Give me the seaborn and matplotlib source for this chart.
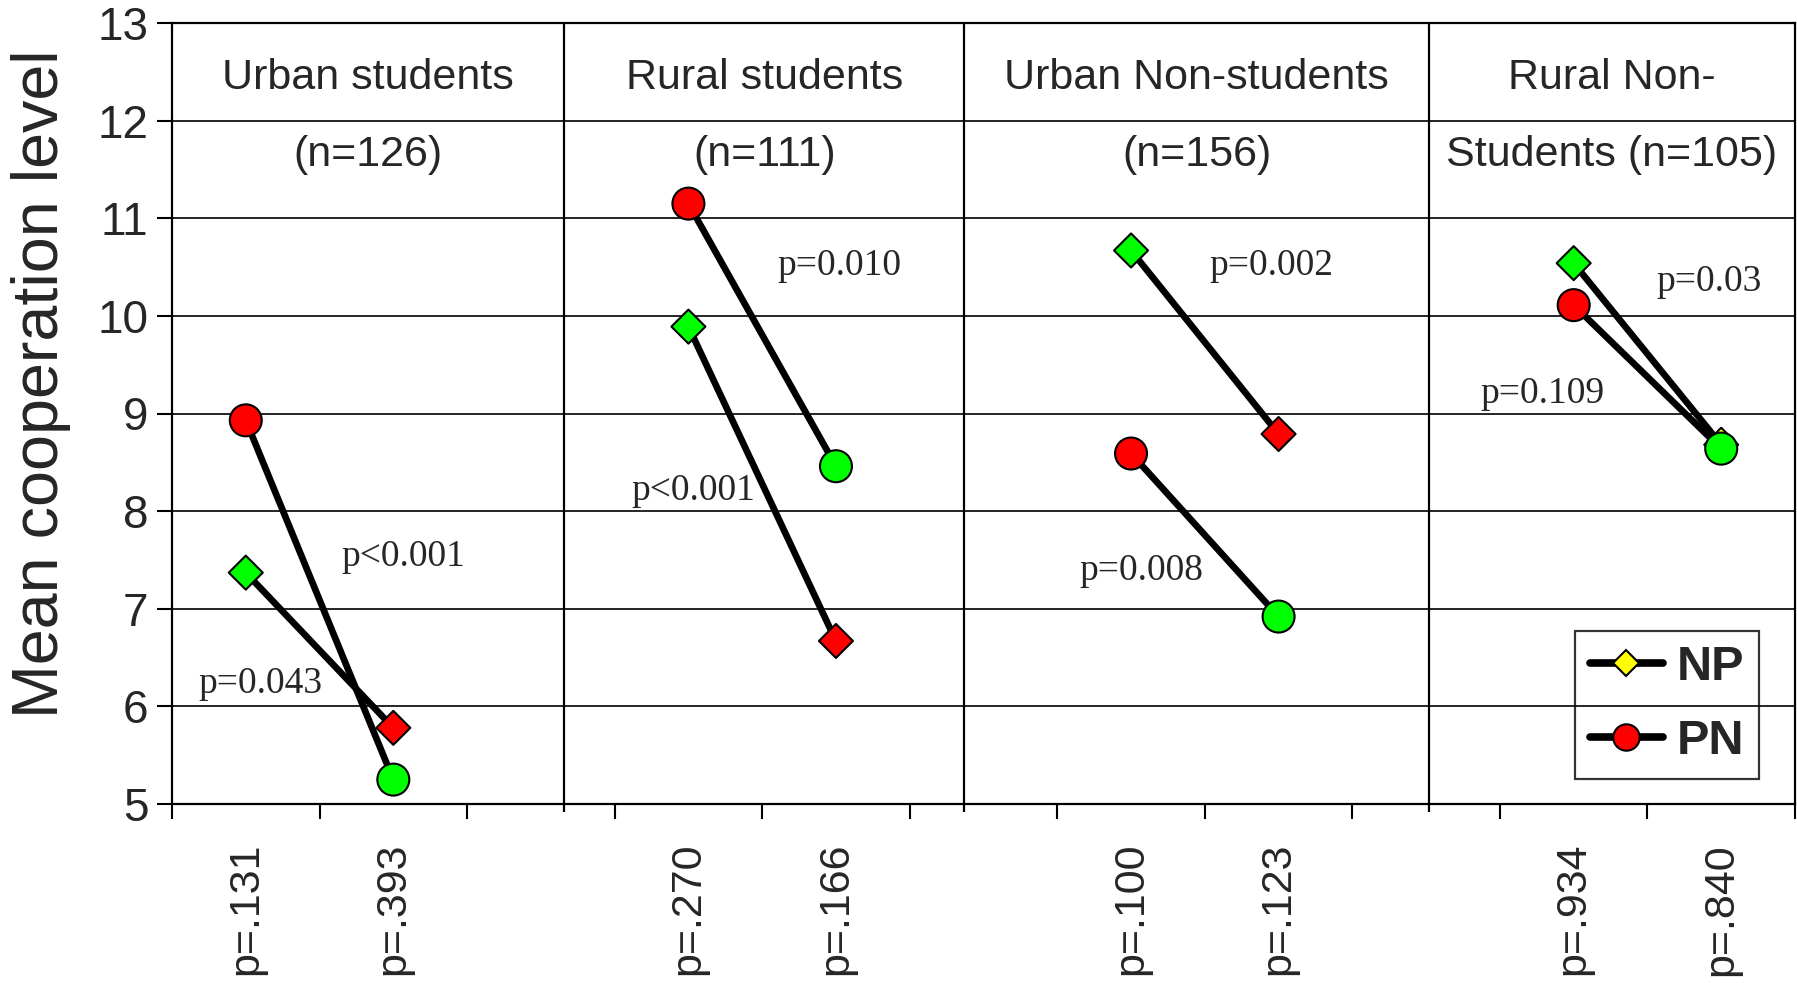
import numpy as np
import pandas as pd
import matplotlib
matplotlib.use("Agg")
import matplotlib.pyplot as plt
from matplotlib.lines import Line2D
import seaborn as sns

# ---------------- data ----------------
categories = ["p=.131", "p=.393", "", "p=.270", "p=.166", "", "p=.100", "p=.123", "", "p=.934", "p=.840"]
groups = ["Urban students", "Rural students", "Urban Non-students", "Rural Non-"]
group_n = ["(n=126)", "(n=111)", "(n=156)", "Students (n=105)"]

np_first = [7.37, 9.89, 10.67, 10.54]
np_second = [5.78, 6.67, 8.79, 8.68]
pn_first = [8.93, 11.15, 8.59, 10.11]
pn_second = [5.25, 8.46, 6.92, 8.64]

np_first_fill = ["green", "green", "green", "green"]
np_second_fill = ["red", "red", "red", "yellow"]
pn_first_fill = ["red", "red", "red", "red"]
pn_second_fill = ["green", "green", "green", "green"]

p_labels = ["p<0.001", "p=0.043", "p=0.010", "p<0.001", "p=0.002", "p=0.008", "p=0.03", "p=0.109"]

# ---------------- layout (positions only) ----------------
p_label_pos = [(1.07, 7.53), (0.10, 6.23), (4.02, 10.51), (3.03, 8.21),
               (6.95, 10.51), (6.07, 7.39), (9.92, 10.35), (8.79, 9.20)]
separators = [2.16, 4.87, 8.02]

palette = {"green": "#00FF00", "red": "#FF0000", "yellow": "#FFFF00"}

rows = []
for g in range(len(groups)):
    x0, x1 = 3 * g, 3 * g + 1
    rows.append(dict(series="NP", unit=f"NP{g}", x=x0, y=np_first[g], fill=np_first_fill[g]))
    rows.append(dict(series="NP", unit=f"NP{g}", x=x1, y=np_second[g], fill=np_second_fill[g]))
    rows.append(dict(series="PN", unit=f"PN{g}", x=x0, y=pn_first[g], fill=pn_first_fill[g]))
    rows.append(dict(series="PN", unit=f"PN{g}", x=x1, y=pn_second[g], fill=pn_second_fill[g]))
df = pd.DataFrame(rows)

sns.set_style("ticks")
plt.rcParams["font.family"] = ["Liberation Sans", "DejaVu Sans"]

fig = plt.figure(figsize=(17.97, 9.83), dpi=100)
ax = fig.add_axes([172 / 1797, 1 - 804 / 983, (1795 - 172) / 1797, (804 - 23) / 983])

# lines
for s in ["NP", "PN"]:
    sub = df[df.series == s]
    sns.lineplot(data=sub, x="x", y="y", units="unit", estimator=None, sort=False,
                 color="black", lw=4.8, ax=ax, legend=False, zorder=3)

# markers
dsub = df[df.series == "NP"]
sns.scatterplot(data=dsub, x="x", y="y", hue="fill", palette=palette, marker="D",
                s=300, edgecolor="black", linewidth=1.5, ax=ax, legend=False, zorder=4)
csub = df[df.series == "PN"]
sns.scatterplot(data=csub, x="x", y="y", hue="fill", palette=palette, marker="o",
                s=530, edgecolor="black", linewidth=1.5, ax=ax, legend=False, zorder=5)

ax.set_xlim(-0.5, len(categories) - 0.5)
ax.set_ylim(5, 13)

# gridlines
ax.set_yticks(np.arange(5, 14, 1))
ax.yaxis.grid(True, color="black", lw=1.2)
ax.xaxis.grid(False)
ax.set_axisbelow(True)

# separators
ax.vlines(separators, 4.92, 13, color="black", lw=1.6, clip_on=False, zorder=2)

# x ticks: major at boundaries, labels at centres
ax.set_xticks(np.arange(-0.5, len(categories), 1.0))
ax.set_xticklabels([])
ax.set_xticks(np.arange(len(categories)), minor=True)
ax.set_xticklabels(categories, minor=True, rotation=90, fontsize=31)
ax.tick_params(axis="x", which="major", direction="out", length=11, width=1.5, color="black")
ax.tick_params(axis="x", which="minor", length=0, pad=28)
ax.tick_params(axis="y", direction="out", length=11, width=1.5, labelsize=33, pad=6, color="black")
ax.set_xlabel("")

for sp in ax.spines.values():
    sp.set_visible(True)
    sp.set_color("black")
    sp.set_linewidth(1.6)

ax.set_ylabel("Mean cooperation level", fontsize=46.5, va="center")
ax.yaxis.set_label_coords(-0.081, 0.538)

# panel titles
mids = []
edges = [-0.5] + separators + [len(categories) - 0.5]
for i in range(len(groups)):
    mids.append((edges[i] + edges[i + 1]) / 2)
for i, (g, n) in enumerate(zip(groups, group_n)):
    ax.text(mids[i], 12.44, g, ha="center", va="center", fontsize=31)
    ax.text(mids[i], 11.65, n, ha="center", va="center", fontsize=31)

# p-value annotations
for lab, (px, py) in zip(p_labels, p_label_pos):
    ax.text(px, py, lab, ha="center", va="center", fontsize=27,
            family=["Liberation Serif", "DejaVu Serif"], zorder=6)

# legend
handles = [
    Line2D([], [], color="black", lw=5.5, marker="D", markersize=13,
           markerfacecolor=palette["yellow"], markeredgecolor="black", markeredgewidth=1.5),
    Line2D([], [], color="black", lw=5.5, marker="o", markersize=19,
           markerfacecolor=palette["red"], markeredgecolor="black", markeredgewidth=1.5),
]
leg = ax.legend(handles, ["NP", "PN"], loc="lower right", bbox_to_anchor=(0.978, 0.032),
                prop={"weight": "bold", "size": 35, "family": "Liberation Sans"},
                frameon=True, fancybox=False, handlelength=1.5, labelspacing=0.6,
                borderpad=0.3, handletextpad=0.3, borderaxespad=0)
leg.get_frame().set_edgecolor("black")
leg.get_frame().set_linewidth(1.6)
leg.get_frame().set_facecolor("none")

fig.savefig("out.png", dpi=100)
